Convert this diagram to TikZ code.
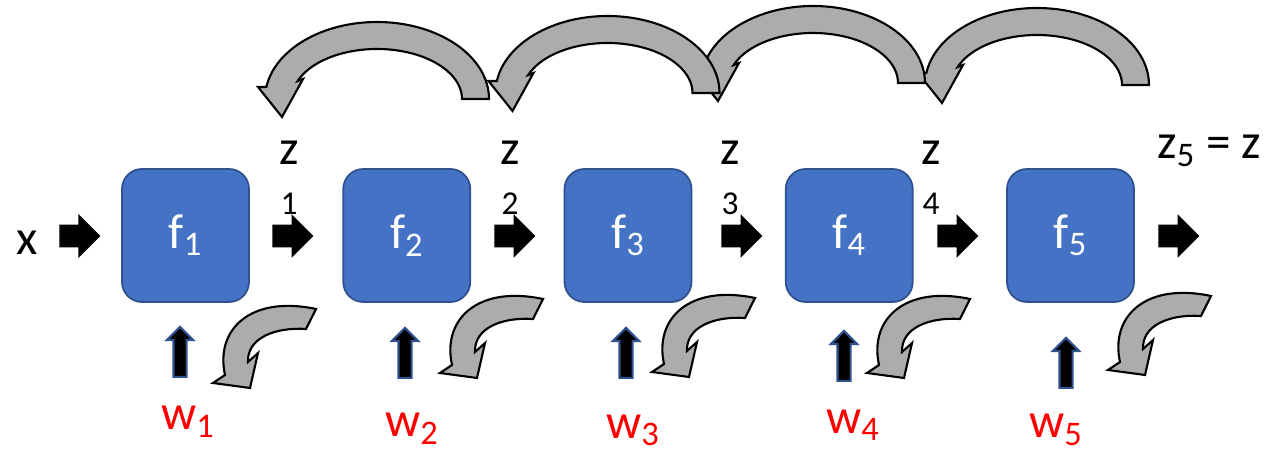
\documentclass[tikz,border=0pt]{standalone}
\usepackage{fontspec}
\setmainfont{Carlito}
\usetikzlibrary{positioning,shapes.arrows,calc}
\definecolor{boxblue}{HTML}{4472C4}
\definecolor{boxedge}{HTML}{2F528F}
\definecolor{loopgray}{HTML}{AEABAB}
\newcommand\bigtext{\fontsize{28}{29}\selectfont}
\newcommand\idx[1]{{\fontsize{19}{29}\selectfont #1}}

\begin{document}
\begin{tikzpicture}[
          fbox/.style={rectangle,rounded corners=0.4cm,fill=boxblue,draw=boxedge,line width=1pt,
            minimum width=2.54cm,minimum height=2.66cm,text=white,font=\bigtext},
          rarr/.style={single arrow,fill=black,anchor=tail,inner xsep=0pt,inner ysep=0.22cm,
            single arrow head extend=0.21cm,minimum height=0.82cm},
          uarr/.style={single arrow,shape border rotate=90,fill=black,draw=boxedge,line width=1.2pt,
            anchor=tail,inner sep=0.11cm,single arrow head extend=0.13cm,minimum height=1.0cm},
          lbl/.style={inner sep=0pt,font=\bigtext},
          zlbl/.style={lbl,align=center,anchor=base},
          wlbl/.style={lbl,text=red,anchor=base},
          grayloop/.style={fill=loopgray,draw=black,line width=1.2pt},
          smallloop/.pic={\draw[grayloop] (0.24,0.16) .. controls (0.04,1.06) and (0.74,1.76) .. (2.06,1.48)
            -- (1.86,1.08) .. controls (1.24,1.12) and (0.68,0.90) .. (0.70,0.42)
            -- (0.90,0.60) -- (0.74,-0.10) -- (0,0) -- cycle;},
          bigloop/.pic={\draw[grayloop] (2.24,0) arc[start angle=0,end angle=171,x radius=2.24,y radius=1.54]
            -- (-2.38,0.24) -- (-1.90,-0.36) -- (-1.48,0.40) -- (159:1.70 and 1.00)
            arc[start angle=159,end angle=0,x radius=1.70,y radius=1.00] -- cycle;}]
        \useasboundingbox (0,0) rectangle (25.32,9.1);
        % feedback arcs on top, drawn right to left
        \pic at (20.74,7.40) {bigloop};
        \pic at (16.26,7.44) {bigloop};
        \pic at (12.15,7.24) {bigloop};
        \pic at (7.54,7.12)  {bigloop};
        % blocks
        \node[fbox] (f1) at (3.71,4.39)   {f\textsubscript{1}};
        \node[fbox] (f2) at (8.135,4.39)  {f\textsubscript{2}};
        \node[fbox] (f3) at (12.56,4.39)  {f\textsubscript{3}};
        \node[fbox] (f4) at (16.985,4.39) {f\textsubscript{4}};
        \node[fbox] (f5) at (21.41,4.39)  {f\textsubscript{5}};
        % flow arrows
        \node[rarr] (a0) at (1.18,4.38)  {};
        \node[rarr] (a1) at (5.44,4.38)  {};
        \node[rarr] (a2) at (9.88,4.38)  {};
        \node[rarr] (a3) at (14.42,4.38) {};
        \node[rarr] (a4) at (18.74,4.38) {};
        \node[rarr] (a5) at (23.16,4.38) {};
        \node[lbl,anchor=base] (x) at (0.55,4.00) {x};
        \node[zlbl] (z1) at (5.78,4.80)  {z\\\idx{1}};
        \node[zlbl] (z2) at (10.20,4.80) {z\\\idx{2}};
        \node[zlbl] (z3) at (14.60,4.80) {z\\\idx{3}};
        \node[zlbl] (z4) at (18.62,4.80) {z\\\idx{4}};
        \node[lbl,anchor=base west] (z5) at (23.14,5.92) {z\textsubscript{5} = z};
        % weights
        \node[uarr] (u1) at (3.60,1.54)  {};
        \node[uarr] (u2) at (8.10,1.52)  {};
        \node[uarr] (u3) at (12.52,1.52) {};
        \node[uarr] (u4) at (16.88,1.46) {};
        \node[uarr] (u5) at (21.32,1.32) {};
        \node[wlbl] (w1) at (3.76,0.50)  {w\textsubscript{1}};
        \node[wlbl] (w2) at (8.24,0.36)  {w\textsubscript{2}};
        \node[wlbl] (w3) at (12.66,0.33) {w\textsubscript{3}};
        \node[wlbl] (w4) at (17.06,0.43) {w\textsubscript{4}};
        \node[wlbl] (w5) at (21.12,0.34) {w\textsubscript{5}};
        % self loops under the blocks
        \pic at (4.26,1.44)  {smallloop};
        \pic at (8.80,1.64)  {smallloop};
        \pic at (13.04,1.66) {smallloop};
        \pic at (17.34,1.64) {smallloop};
        \pic at (22.16,1.70) {smallloop};
      \end{tikzpicture}
\end{document}
